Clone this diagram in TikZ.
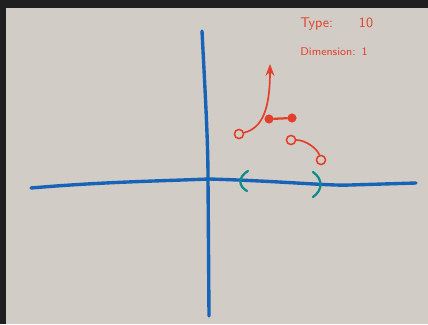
\documentclass[tikz,border=0pt]{standalone}
\usepackage{tikz}
\usetikzlibrary{arrows.meta}
\definecolor{frame}{HTML}{1F1F21}
\definecolor{board}{HTML}{D2CCC6}
\definecolor{axis}{HTML}{1763B8}
\definecolor{teal}{HTML}{0E8C8C}
\definecolor{mark}{HTML}{E2402C}
\begin{document}
\begin{tikzpicture}[x=0.025cm, y=-0.025cm, >=Stealth,
  ax/.style={draw=axis, line width=2.4pt, line cap=round},
  par/.style={draw=teal, line width=1.6pt, line cap=round},
  red/.style={draw=mark, line width=1.2pt, line cap=round},
  open/.style={circle, draw=mark, line width=1.1pt, fill=board, inner sep=0pt, minimum size=6.5pt},
  dot/.style={circle, fill=mark, inner sep=0pt, minimum size=6.5pt},
  lab/.style={text=mark, font=\sffamily, anchor=west, inner sep=0pt}
]
\useasboundingbox (0,0) rectangle (428,324);
\fill[frame] (0,0) rectangle (428,324);
\fill[board] (6,8) rectangle (428,324);
% axes
\draw[ax] (31,188) .. controls (100,182) and (160,181) .. (209,179)
  .. controls (280,181) and (330,186) .. (350,185) -- (416,183);
\draw[ax] (202,31) .. controls (205,90) and (208,140) .. (208,178) -- (209,316);
% interval on the x axis
\draw[par] (248,171) .. controls (238,177) and (238,186) .. (247,191);
\draw[par] (313,172) .. controls (323,179) and (323,190) .. (313,197);
% red marks
\node[open] (a) at (239,134) {};
\coordinate (tip) at (270,64);
\draw[red, ->] (a) .. controls (262,128) and (270,110) .. (tip);
\node[dot] (b) at (269,119) {};
\node[dot] (c) at (292,118) {};
\draw[red, line width=1.6pt] (b) -- (c);
\node[open] (d) at (291,140) {};
\node[open] (e) at (321,160) {};
\draw[red] (d) .. controls (305,140) and (317,148) .. (e);
% labels
\node[lab] (type) at (300,24) {Type:\hspace{6.5mm}10};
\node[lab, font=\sffamily\footnotesize] (dim) at (300,52) {Dimension:\hspace{1.5mm}1};
\end{tikzpicture}
\end{document}
